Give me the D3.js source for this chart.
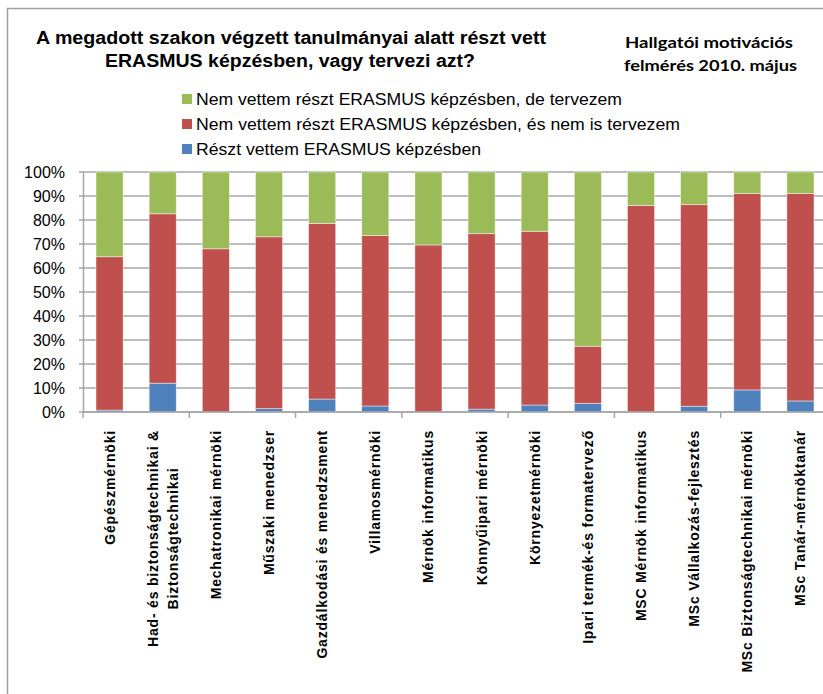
<!DOCTYPE html>
<html>
<head>
<meta charset="utf-8">
<script src="https://cdn.jsdelivr.net/npm/d3@7"></script>
<style>
  body { margin: 0; background: #fff; }
  svg { display: block; font-family: 'Liberation Sans', Arial, sans-serif; }
</style>
</head>
<body>
<svg width="823" height="694"></svg>
<script>
const categories = [
  'Gépészmérnöki',
  'Had- és biztonságtechnikai &\nBiztonságtechnikai',
  'Mechatronikai mérnöki',
  'Műszaki menedzser',
  'Gazdálkodási és menedzsment',
  'Villamosmérnöki',
  'Mérnök informatikus',
  'Könnyűipari mérnöki',
  'Környezetmérnöki',
  'Ipari termék-és formatervező',
  'MSC Mérnök informatikus',
  'MSc Vállalkozás-fejlesztés',
  'MSc Biztonságtechnikai mérnöki',
  'MSc Tanár-mérnöktanár'
];

// percentages, bottom to top
const resztVett = [0.8, 12, 0, 1.4, 5.4, 2.5, 0, 1.2, 2.9, 3.6, 0, 2.4, 9.2, 4.6];
const nemTervezem = [63.9, 70.6, 68, 71.6, 73.2, 71, 69.6, 73.1, 72.4, 23.8, 86, 84, 81.8, 86.4];
const deTervezem = [35.3, 17.4, 32, 27, 21.4, 26.5, 30.4, 25.7, 24.7, 72.6, 14, 13.6, 9, 9];

const seriesNames = [
  'Részt vettem ERASMUS képzésben',
  'Nem vettem részt ERASMUS képzésben, és nem is tervezem',
  'Nem vettem részt ERASMUS képzésben, de tervezem'
];
const yTicks = [0, 10, 20, 30, 40, 50, 60, 70, 80, 90, 100];

const colors = ['#4f81bd', '#c0504d', '#9bbb59'];
const keys = ['a', 'b', 'c'];

const svg = d3.select('svg');

// chart frame
svg.append('rect')
  .attr('x', 7.5).attr('y', 8.5)
  .attr('width', 1000).attr('height', 1000)
  .attr('fill', 'none')
  .attr('stroke', '#a0a0a0')
  .attr('stroke-width', 1.5);

// titles
const title = svg.append('g')
  .attr('font-weight', 'bold')
  .attr('font-size', 18)
  .attr('fill', '#000');

title.append('text')
  .attr('x', 36).attr('y', 44)
  .attr('textLength', 510)
  .attr('lengthAdjust', 'spacingAndGlyphs')
  .text('A megadott szakon végzett tanulmányai alatt részt vett');

title.append('text')
  .attr('x', 105).attr('y', 67)
  .attr('textLength', 370)
  .attr('lengthAdjust', 'spacingAndGlyphs')
  .text('ERASMUS képzésben, vagy tervezi azt?');

const sub = svg.append('g')
  .attr('font-family', 'Lato, "Open Sans", sans-serif')
  .attr('font-weight', 'bold')
  .attr('font-size', 16)
  .attr('fill', '#000');

sub.append('text')
  .attr('x', 625).attr('y', 48)
  .attr('textLength', 168)
  .attr('lengthAdjust', 'spacingAndGlyphs')
  .text('Hallgatói motivációs');

sub.append('text')
  .attr('x', 624).attr('y', 71)
  .attr('textLength', 173)
  .attr('lengthAdjust', 'spacingAndGlyphs')
  .text('felmérés 2010. május');

// legend (top to bottom: green, red, blue)
const legendWidths = [426, 484, 285];
const legend = svg.append('g')
  .attr('font-size', 16.5);

[2, 1, 0].forEach((s, i) => {
  const row = legend.append('g')
    .attr('transform', `translate(182, ${99 + i * 25})`);
  row.append('rect')
    .attr('x', 0).attr('y', -5)
    .attr('width', 10).attr('height', 10)
    .attr('fill', colors[s]);
  row.append('text')
    .attr('x', 14).attr('y', 6)
    .attr('textLength', legendWidths[i])
    .attr('lengthAdjust', 'spacingAndGlyphs')
    .text(seriesNames[s]);
});

// scales
const x = d3.scaleBand()
  .domain(categories)
  .range([83, 827])
  .paddingInner(0.49)
  .paddingOuter(0.245);

const y = d3.scaleLinear()
  .domain([0, 100])
  .range([412, 172]);

// gridlines
svg.append('g')
  .selectAll('line')
  .data(yTicks)
  .enter()
  .append('line')
  .attr('x1', 79)
  .attr('x2', 827)
  .attr('y1', d => y(d))
  .attr('y2', d => y(d))
  .attr('stroke', '#a6a6a6')
  .attr('stroke-width', 1.5);

// y axis
const yAxis = d3.axisLeft(y)
  .tickValues(yTicks)
  .tickSize(0)
  .tickPadding(18)
  .tickFormat(d => d + '%');

const yg = svg.append('g')
  .attr('transform', 'translate(83,0)')
  .call(yAxis);
yg.select('.domain').attr('stroke', '#a6a6a6').attr('stroke-width', 1.5);
yg.selectAll('text')
  .attr('font-size', 16)
  .attr('font-family', "'Liberation Sans', Arial, sans-serif")
  .attr('fill', '#000');

// stacked bars
const table = categories.map((c, i) => ({ cat: c, a: resztVett[i], b: nemTervezem[i], c: deTervezem[i] }));
const stacked = d3.stack().keys(keys)(table);

svg.append('g')
  .selectAll('g')
  .data(stacked)
  .enter()
  .append('g')
  .attr('fill', (d, i) => colors[i])
  .selectAll('rect')
  .data(d => d)
  .enter()
  .append('rect')
  .attr('x', d => x(d.data.cat))
  .attr('width', x.bandwidth())
  .attr('y', d => y(d[1]))
  .attr('height', d => y(d[0]) - y(d[1]))
  .attr('stroke', 'rgba(255,255,255,0.55)')
  .attr('stroke-width', 0.8);

// x axis line with tick marks every second category
const xAxisG = svg.append('g');
xAxisG.append('line')
  .attr('x1', 83).attr('x2', 827)
  .attr('y1', 412).attr('y2', 412)
  .attr('stroke', '#a6a6a6')
  .attr('stroke-width', 1.5);

xAxisG.selectAll('.tk')
  .data(categories.filter((d, i) => i % 2 === 0))
  .enter()
  .append('line')
  .attr('class', 'tk')
  .attr('x1', d => x(d) - x.step() * x.paddingInner() / 2)
  .attr('x2', d => x(d) - x.step() * x.paddingInner() / 2)
  .attr('y1', 412).attr('y2', 418)
  .attr('stroke', '#a6a6a6')
  .attr('stroke-width', 1.5);

// rotated category labels
const labelTop = 430;
const lineGap = 20;

categories.forEach(cat => {
  const lines = cat.split('\n');
  const g = svg.append('g')
    .attr('transform', `translate(${x(cat) + x.bandwidth() / 2}, ${labelTop}) rotate(-90)`);
  const texts = lines.map((ln, j) => g.append('text')
    .attr('text-anchor', 'middle')
    .attr('font-weight', 'bold')
    .attr('font-size', 14)
    .attr('letter-spacing', 0.8)
    .attr('y', (j - (lines.length - 1) / 2) * lineGap)
    .attr('dy', '0.36em')
    .text(ln));
  const maxW = d3.max(texts, t => t.node().getComputedTextLength());
  texts.forEach(t => t.attr('x', -maxW / 2));
});
</script>
</body>
</html>
